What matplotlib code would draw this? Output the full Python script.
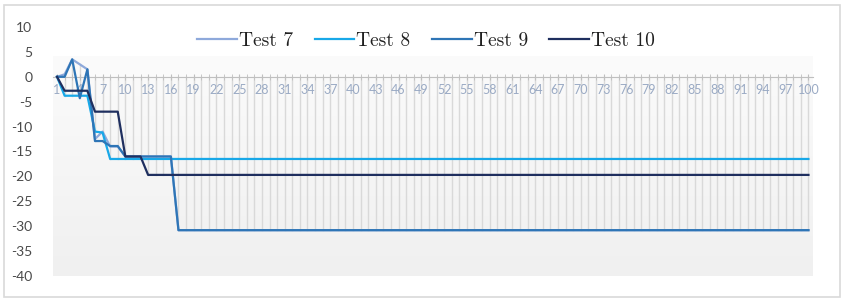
import numpy as np
import matplotlib.pyplot as plt
from matplotlib.patches import Rectangle

# data
categories = np.arange(1, 101)
test7 = [0, 0.5, 3.5, 2.5, 1.5, -12.5, -11.0, -14.0, -14.0, -16.0,
         -16.0, -16.0, -16.0, -16.0, -16.0, -16.0] + [-30.8] * 84
test8 = [0, -3.8, -3.8, -3.8, -3.8, -11.0, -11.2, -16.5] + [-16.5] * 92
test9 = [0, 0, 3.5, -4.3, 1.5, -12.9, -12.9, -13.9, -13.9, -16.0,
         -16.0, -16.0, -16.0, -16.0, -16.0, -16.0] + [-30.8] * 84
test10 = [0, -2.8, -2.8, -2.8, -2.8, -7.0, -7.0, -7.0, -7.0, -16.0,
          -16.0, -16.0, -19.7] + [-19.7] * 87
series = [('Test 7', test7, '#8EA9DB'),
          ('Test 8', test8, '#18A8E8'),
          ('Test 9', test9, '#2E75B6'),
          ('Test 10', test10, '#1F2F5F')]
yticks = np.arange(-40, 11, 5)

fig = plt.figure(figsize=(8.48, 3.04), dpi=100)
fig.patches.append(Rectangle((4 / 848, 7 / 304), 836 / 848, 292 / 304,
                             transform=fig.transFigure, fill=False,
                             edgecolor='#D9D9D9', lw=1.2))
ax = fig.add_axes([53 / 848, 28 / 304, 760 / 848, 249 / 304])

x0, x1 = 0.47, 100.6
ax.set_xlim(x0, x1)
ax.set_ylim(-40, 10)

# plot area gradient
grad = np.linspace(0, 1, 256).reshape(-1, 1)
ax.imshow(grad, extent=(x0, x1, -40, 4), aspect='auto', origin='upper',
          cmap=plt.matplotlib.colors.LinearSegmentedColormap.from_list(
              'g', ['#FBFBFB', '#F0F0F0']), zorder=0)

# drop lines
vals = np.array([s[1] for s in series])
lo = vals.min(axis=0)
hi = vals.max(axis=0)
for c, l, h in zip(categories, lo, hi):
    top = max(h, 0)
    bot = min(l, 0)
    ax.plot([c, c], [bot, top], color='#D9D9D9', lw=1, zorder=1)

for name, v, col in series:
    ax.plot(categories, v, color=col, lw=1.6, label=name, zorder=3)

for s in ['top', 'right', 'left']:
    ax.spines[s].set_visible(False)
ax.spines['bottom'].set_position(('data', 0))
ax.spines['bottom'].set_color('#BFBFBF')
ax.spines['bottom'].set_bounds(0.5, 100.6)

ax.set_xticks(categories, minor=True)
ax.set_xticks(categories[::3])
ax.set_xticklabels([str(c) for c in categories[::3]], fontsize=9,
                   color='#9AAAC4', family='Lato')
ax.tick_params(axis='x', which='both', direction='inout', length=5,
               color='#BFBFBF', pad=3)
ax.tick_params(axis='x', which='minor', length=5)

ax.set_yticks(yticks)
ax.set_yticklabels([str(t) for t in yticks], fontsize=10, color='#4A4A4A',
                   family='Lato')
ax.tick_params(axis='y', length=0, pad=15)

leg = ax.legend(loc='center', bbox_to_anchor=(0.491, 0.945), ncol=4,
                frameon=False, prop={'family': 'cmr10', 'size': 14},
                handlelength=2.05, handletextpad=0.1, columnspacing=1.1,
                borderpad=0)
for t in leg.get_texts():
    t.set_color('#202020')

fig.savefig('out.png', dpi=100)
